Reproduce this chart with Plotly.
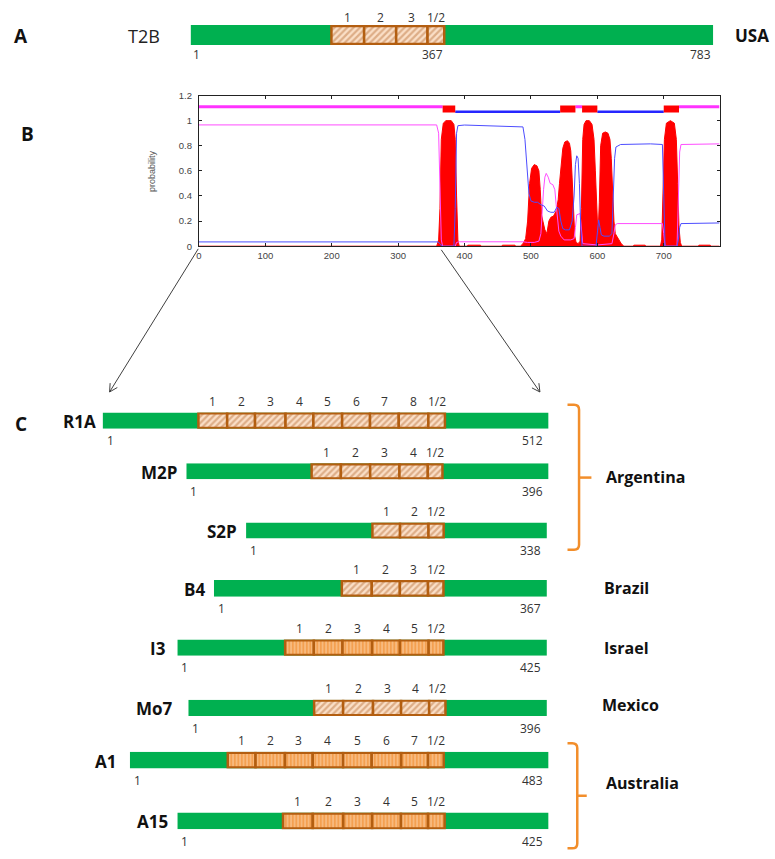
import math
import plotly.graph_objects as go

W, H = 775, 859

# ---------------- DATA ----------------
# Panel A : full-length T2B protein
t2b_name = "T2B"
t2b_country = "USA"
t2b_length = 783
t2b_repeat_bounds = [211, 260, 308, 355, 380]
t2b_repeat_labels = ["1", "2", "3", "1/2"]
t2b_repeat_end_label = 367

# Panel B : posterior probabilities along the sequence
pos_tm = [0, 358, 361, 363, 365, 368, 372, 380, 384, 386, 388, 390, 392, 404, 405, 424, 425,
          456, 457, 476, 477, 484, 488, 492, 495, 498, 501, 505, 509, 512, 514, 516, 518, 521,
          524, 527, 530, 534, 538, 541, 543, 545, 548, 551, 555, 558, 560, 562, 564, 566, 568,
          571, 574, 576, 578, 580, 583, 588, 592, 595, 597, 599, 601, 603, 605, 608, 612, 616,
          619, 621, 623, 625, 627, 629, 632, 636, 640, 654, 655, 672, 673, 695, 697, 699, 701,
          704, 710, 716, 719, 721, 723, 725, 727, 752, 753, 770, 771, 784]
prob_tm = [0, 0, 0.05, 0.3, 0.85, 0.98, 1.0, 1.0, 0.97, 0.85, 0.4, 0.05, 0, 0, 0.008, 0.008, 0,
           0, 0.008, 0.008, 0, 0, 0.02, 0.06, 0.2, 0.5, 0.62, 0.65, 0.64, 0.6, 0.45, 0.25, 0.2, 0.13,
           0.1, 0.2, 0.23, 0.24, 0.28, 0.37, 0.5, 0.62, 0.78, 0.83, 0.84, 0.82, 0.76, 0.55, 0.25, 0.08, 0.03,
           0.02, 0.04, 0.3, 0.85, 0.97, 1.0, 1.0, 0.97, 0.85, 0.6, 0.3, 0.08, 0.35, 0.8, 0.9, 0.91, 0.9,
           0.85, 0.7, 0.45, 0.2, 0.1, 0.08, 0.06, 0.02, 0, 0, 0.008, 0.008, 0, 0, 0.05, 0.5, 0.85,
           0.98, 1.0, 0.98, 0.85, 0.5, 0.15, 0.03, 0, 0, 0.008, 0.008, 0, 0]

pos_in = [0, 360, 363, 366, 384, 386, 388, 390, 400, 470, 488, 491, 494, 497, 500, 505, 510, 515,
          520, 525, 530, 535, 539, 542, 545, 548, 552, 558, 562, 565, 567, 569, 571, 573, 575, 577,
          598, 600, 602, 604, 606, 610, 618, 622, 624, 626, 628, 635, 680, 698, 700, 702, 720, 722,
          724, 726, 784]
prob_in = [0.034, 0.034, 0.02, 0.0, 0.0, 0.3, 0.9, 0.96, 0.965, 0.955, 0.95, 0.85, 0.6, 0.42, 0.36,
           0.35, 0.35, 0.33, 0.32, 0.28, 0.27, 0.27, 0.31, 0.3, 0.2, 0.14, 0.13, 0.13, 0.2, 0.4, 0.65,
           0.72, 0.7, 0.5, 0.15, 0.0, 0.0, 0.12, 0.21, 0.15, 0.09, 0.08, 0.08, 0.1, 0.35, 0.7, 0.79,
           0.81, 0.815, 0.81, 0.4, 0.0, 0.0, 0.05, 0.15, 0.18, 0.185]

pos_out = [0, 358, 361, 363, 365, 367, 386, 388, 392, 488, 495, 505, 512, 515, 517, 519, 521, 523,
           526, 529, 533, 536, 538, 540, 542, 545, 550, 560, 565, 567, 569, 574, 576, 578, 600, 622,
           625, 627, 630, 698, 700, 702, 720, 722, 724, 726, 784]
prob_out = [0.966, 0.966, 0.9, 0.4, 0.05, 0.0, 0.0, 0.03, 0.035, 0.035, 0.03, 0.03, 0.04, 0.1, 0.3,
            0.45, 0.55, 0.58, 0.55, 0.5, 0.49, 0.45, 0.33, 0.2, 0.12, 0.08, 0.05, 0.05, 0.06, 0.15,
            0.25, 0.26, 0.1, 0.02, 0.01, 0.02, 0.1, 0.17, 0.18, 0.18, 0.1, 0.0, 0.0, 0.4, 0.75, 0.81,
            0.815]

topo_start = [0, 367, 386, 544, 567, 577, 600, 700, 723]
topo_end = [367, 386, 544, 567, 577, 600, 700, 723, 784]
topo_kind = ["outside", "TMhelix", "inside", "TMhelix", "outside", "TMhelix", "inside", "TMhelix", "outside"]
topo_level = {"outside": 1.11, "inside": 1.07, "TMhelix": 1.0925}

x_ticks = [0, 100, 200, 300, 400, 500, 600, 700]
y_ticks = [0, 0.2, 0.4, 0.6, 0.8, 1.0, 1.2]
y_tick_text = ["0", "0.2", "0.4", "0.6", "0.8", "1", "1.2"]

# Panel C : constructs
construct_names = ["R1A", "M2P", "S2P", "B4", "I3", "Mo7", "A1", "A15"]
construct_lengths = [512, 396, 338, 367, 425, 396, 483, 425]
construct_repeats = [
    [110, 143, 175, 210, 242, 275, 307, 340, 374, 393],
    [137, 169, 201, 233, 264, 280],
    [142, 173, 205, 222],
    [141, 174, 205, 236, 253],
    [124, 157, 190, 224, 256, 289, 306],
    [139, 171, 204, 235, 266, 284],
    [113, 145, 179, 211, 246, 279, 313, 344, 362],
    [121, 155, 190, 223, 256, 287, 306],
]
construct_pattern = ["diag", "diag", "diag", "diag", "vert", "diag", "vert", "vert"]

country_names = ["Argentina", "Brazil", "Israel", "Mexico", "Australia"]

# ---------------- LAYOUT GEOMETRY (pixels) ----------------
def fx(px):
    return px / W


def fy(py):
    return 1 - py / H


row_box = [  # left, right, top, bottom
    (100, 547.7, 411.7, 428.3),
    (184, 547.7, 463.3, 479.5),
    (244, 546, 523.3, 539.5),
    (211.7, 546, 581.5, 598.3),
    (175, 546, 641.7, 658.3),
    (186, 546, 702.7, 719.3),
    (127.3, 547.7, 755.5, 772.3),
    (175, 547.7, 817, 834),
]
row_label_right = [95, 177, 237, 205, 166, 173, 115, 168]
country_pos = [(603, 477), (601, 590), (601, 650), (599, 708.5), (603, 787.5)]

GREEN = "#00b050"
BROWN = "#b35e10"
FONT = "Open Sans"

fig = go.Figure()
annotations = []
shapes = []
layout_axes = {}


def paper_text(px, py, text, size, color="#111", xanchor="center", angle=0, family=FONT):
    return dict(x=fx(px), y=fy(py), xref="paper", yref="paper", text=text, showarrow=False,
                xanchor=xanchor, yanchor="middle", textangle=angle,
                font=dict(family=family, size=size, color=color))


def repeat_traces(bounds, kind, xa, ya):
    starts = bounds[:-1]
    widths = [b - a for a, b in zip(bounds[:-1], bounds[1:])]
    if kind == "diag":
        marker = dict(color="#fbe0c8", line=dict(color=BROWN, width=2.5),
                      pattern=dict(shape="/", fgcolor="#c07a45", size=4.5, solidity=0.5))
    else:
        marker = dict(color="#f4a050", line=dict(color=BROWN, width=2.5),
                      pattern=dict(shape="|", fgcolor="#fde8d2", size=3.5, solidity=0.35))
    return go.Bar(orientation="h", y=[0] * len(starts), x=widths, base=starts,
                  width=[0.9] * len(starts), marker=marker, xaxis=xa, yaxis=ya,
                  hoverinfo="skip", showlegend=False)


def green_trace(length, xa, ya):
    return go.Bar(orientation="h", y=[0], x=[length], base=[0], width=[1.0],
                  marker=dict(color=GREEN, line=dict(width=0)), xaxis=xa, yaxis=ya,
                  hoverinfo="skip", showlegend=False)


def repeat_label_names(bounds):
    n = len(bounds) - 2
    return [str(i + 1) for i in range(n)] + ["1/2"]


SMALL = dict(family=FONT, size=12, color="#333")

# ---------- Panel A ----------
fig.add_trace(green_trace(t2b_length, "x2", "y2"))
fig.add_trace(repeat_traces(t2b_repeat_bounds, "diag", "x2", "y2"))
layout_axes["xaxis2"] = dict(domain=[fx(188.3), fx(713)], range=[0, t2b_length], visible=False,
                             anchor="y2", fixedrange=True)
layout_axes["yaxis2"] = dict(domain=[fy(39.5), fy(19.3)], range=[-0.5, 0.5], visible=False,
                             anchor="x2", fixedrange=True)
for a, b, lab in zip(t2b_repeat_bounds[:-1], t2b_repeat_bounds[1:], t2b_repeat_labels):
    annotations.append(dict(x=(a + b) / 2, y=0.5, xref="x2", yref="y2", text=lab, showarrow=False,
                            xanchor="center", yanchor="middle", yshift=7.5, font=SMALL))
annotations.append(dict(x=0, y=-0.5, xref="x2", yref="y2", text="1", showarrow=False, xanchor="left",
                        yanchor="middle", yshift=-9.5, font=SMALL))
annotations.append(dict(x=t2b_repeat_end_label, y=-0.5, xref="x2", yref="y2",
                        text=str(t2b_repeat_end_label), showarrow=False, xanchor="center",
                        yanchor="middle", xshift=-3, yshift=-9.5, font=SMALL))
annotations.append(dict(x=t2b_length, y=-0.5, xref="x2", yref="y2", text=str(t2b_length),
                        showarrow=False, xanchor="right", yanchor="middle", yshift=-9.5, font=SMALL))
annotations.append(paper_text(18, 30, "<b>A</b>", 19))
annotations.append(paper_text(142, 30, t2b_name, 18, color="#222"))
annotations.append(paper_text(733, 30, "<b>" + t2b_country + "</b>", 17, xanchor="left"))

# ---------- Panel B ----------
fig.add_trace(go.Scatter(x=pos_tm, y=prob_tm, mode="lines", line=dict(color="#ff0000", width=1),
                         fill="tozeroy", fillcolor="#ff0000", xaxis="x", yaxis="y",
                         hoverinfo="skip", showlegend=False))
fig.add_trace(go.Scatter(x=pos_out, y=prob_out, mode="lines", line=dict(color="#ff4dff", width=1),
                         xaxis="x", yaxis="y", hoverinfo="skip", showlegend=False))
fig.add_trace(go.Scatter(x=pos_in, y=prob_in, mode="lines", line=dict(color="#4d4dff", width=1),
                         xaxis="x", yaxis="y", hoverinfo="skip", showlegend=False))
topo_style = {"outside": ("#ff33ff", 3), "inside": ("#2626ff", 2.5), "TMhelix": ("#ff0000", 7)}
for kind in ["outside", "inside", "TMhelix"]:
    xs, ys = [], []
    for s, e, k in zip(topo_start, topo_end, topo_kind):
        if k == kind:
            xs += [s, e, None]
            ys += [topo_level[k], topo_level[k], None]
    col, wid = topo_style[kind]
    fig.add_trace(go.Scatter(x=xs, y=ys, mode="lines", line=dict(color=col, width=wid),
                             xaxis="x", yaxis="y", hoverinfo="skip", showlegend=False))

axis_common = dict(showline=True, linecolor="#222", linewidth=1, mirror="ticks", ticks="inside",
                   ticklen=3, tickcolor="#222", showgrid=False, zeroline=False, fixedrange=True,
                   tickfont=dict(family="Liberation Sans", size=9.5, color="#444"))
layout_axes["xaxis"] = dict(domain=[fx(196.7), fx(719.3)], range=[0, 784], tickvals=x_ticks,
                            anchor="y", **axis_common)
layout_axes["yaxis"] = dict(domain=[fy(243.3), fy(90.7)], range=[0, 1.2], tickvals=y_ticks,
                            ticktext=y_tick_text, anchor="x", ticklabelstandoff=4, **axis_common)
annotations.append(paper_text(149, 166.7, "probability", 9, color="#555", angle=-90,
                              family="Liberation Sans"))
annotations.append(paper_text(25, 130, "<b>B</b>", 19))


# arrows from panel B to panel C
def arrow(tail, tip, head=9, ang=28):
    (x0, y0), (x1, y1) = tail, tip
    shapes.append(dict(type="line", xref="paper", yref="paper", x0=fx(x0), y0=fy(y0), x1=fx(x1),
                       y1=fy(y1), line=dict(color="#404040", width=1)))
    dx, dy = x1 - x0, y1 - y0
    L = math.hypot(dx, dy)
    ux, uy = dx / L, dy / L
    for sgn in (1, -1):
        a = math.radians(ang) * sgn
        rx = ux * math.cos(a) - uy * math.sin(a)
        ry = ux * math.sin(a) + uy * math.cos(a)
        shapes.append(dict(type="line", xref="paper", yref="paper", x0=fx(x1), y0=fy(y1),
                           x1=fx(x1 - head * rx), y1=fy(y1 - head * ry),
                           line=dict(color="#404040", width=1)))


arrow((196, 246), (107, 391))
arrow((440, 247), (539, 391))

# ---------- Panel C ----------
for i, (name, length, bounds, pat) in enumerate(zip(construct_names, construct_lengths,
                                                    construct_repeats, construct_pattern)):
    k = i + 3
    xa, ya = "x%d" % k, "y%d" % k
    left, right, top, bottom = row_box[i]
    fig.add_trace(green_trace(length, xa, ya))
    fig.add_trace(repeat_traces(bounds, pat, xa, ya))
    layout_axes["xaxis%d" % k] = dict(domain=[fx(left), fx(right)], range=[0, length],
                                      visible=False, anchor=ya, fixedrange=True)
    layout_axes["yaxis%d" % k] = dict(domain=[fy(bottom), fy(top)], range=[-0.5, 0.5],
                                      visible=False, anchor=xa, fixedrange=True)
    for a, b, lab in zip(bounds[:-1], bounds[1:], repeat_label_names(bounds)):
        annotations.append(dict(x=(a + b) / 2, y=0.5, xref=xa, yref=ya, text=lab, showarrow=False,
                                xanchor="center", yanchor="middle", yshift=11, font=SMALL))
    annotations.append(dict(x=0, y=-0.5, xref=xa, yref=ya, text="1", showarrow=False,
                            xanchor="left", yanchor="middle", xshift=2, yshift=-12, font=SMALL))
    annotations.append(dict(x=length, y=-0.5, xref=xa, yref=ya, text=str(length), showarrow=False,
                            xanchor="right", yanchor="middle", xshift=-4, yshift=-12, font=SMALL))
    annotations.append(paper_text(row_label_right[i], (top + bottom) / 2 + 1, "<b>%s</b>" % name, 17,
                                  xanchor="right"))

for name, (px, py) in zip(country_names, country_pos):
    annotations.append(paper_text(px, py, "<b>%s</b>" % name, 16, xanchor="left"))
annotations.append(paper_text(18, 423, "<b>C</b>", 19))


def bracket(xv, top, bottom, xl, mid, xt, r=5):
    pts = lambda x, y: "%f,%f" % (fx(x), fy(y))
    path = ("M " + pts(xl, top) + " L " + pts(xv - r, top) + " Q " + pts(xv, top) + " " + pts(xv, top + r)
            + " L " + pts(xv, bottom - r) + " Q " + pts(xv, bottom) + " " + pts(xv - r, bottom)
            + " L " + pts(xl, bottom))
    shapes.append(dict(type="path", xref="paper", yref="paper", path=path,
                       line=dict(color="#f28e2b", width=2.5)))
    shapes.append(dict(type="line", xref="paper", yref="paper", x0=fx(xv), y0=fy(mid), x1=fx(xt),
                       y1=fy(mid), line=dict(color="#f28e2b", width=2.5)))


bracket(578.3, 404, 550.7, 566.7, 477.7, 590.7)
bracket(576.5, 746.7, 853.3, 566.7, 800, 586)

fig.update_layout(width=W, height=H, margin=dict(l=0, r=0, t=0, b=0), paper_bgcolor="white",
                  plot_bgcolor="white", barmode="overlay", showlegend=False,
                  annotations=annotations, shapes=shapes, **layout_axes)

fig.write_html("out.html", config={"displayModeBar": False, "staticPlot": True},
               post_script="document.body.style.margin='0';document.body.style.overflow='hidden';")
